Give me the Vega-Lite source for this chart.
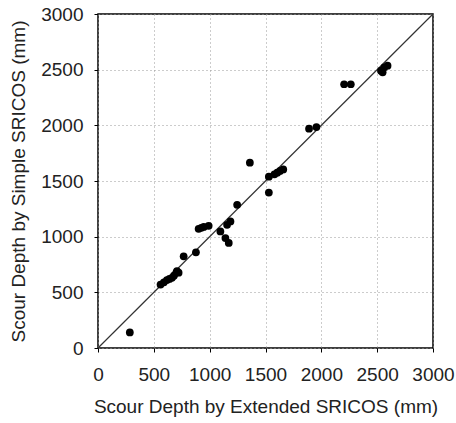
{
  "$schema": "https://vega.github.io/schema/vega-lite/v6.json",
  "autosize": "none",
  "width": 335,
  "height": 334,
  "padding": {"left": 98, "top": 14, "right": 23, "bottom": 75},
  "background": "white",
  "config": {
    "view": {"stroke": "black", "strokeWidth": 1.5},
    "axis": {
      "labelFont": "Liberation Sans",
      "titleFont": "Liberation Sans",
      "labelFontSize": 19,
      "titleFontSize": 19,
      "titleFontWeight": "normal",
      "labelColor": "#222",
      "titleColor": "#222",
      "domain": false,
      "tickColor": "black",
      "tickSize": 4,
      "grid": true,
      "gridColor": "#999",
      "gridDash": [1, 3],
      "gridWidth": 1,
      "format": "d",
      "labelOverlap": false,
      "labelBound": false,
      "labelFlush": false
    }
  },
  "datasets": {
    "pts": [
      {"ext": 285, "simple": 140},
      {"ext": 560, "simple": 570},
      {"ext": 590, "simple": 590},
      {"ext": 617, "simple": 610},
      {"ext": 640, "simple": 620},
      {"ext": 662, "simple": 631},
      {"ext": 680, "simple": 650},
      {"ext": 700, "simple": 675},
      {"ext": 707, "simple": 690},
      {"ext": 722, "simple": 676},
      {"ext": 767, "simple": 824},
      {"ext": 877, "simple": 860},
      {"ext": 901, "simple": 1071},
      {"ext": 925, "simple": 1080},
      {"ext": 947, "simple": 1087},
      {"ext": 991, "simple": 1098},
      {"ext": 1096, "simple": 1047},
      {"ext": 1141, "simple": 988},
      {"ext": 1171, "simple": 944},
      {"ext": 1156, "simple": 1107},
      {"ext": 1186, "simple": 1137},
      {"ext": 1246, "simple": 1286},
      {"ext": 1360, "simple": 1664},
      {"ext": 1530, "simple": 1539},
      {"ext": 1530, "simple": 1396},
      {"ext": 1580, "simple": 1560},
      {"ext": 1605, "simple": 1575},
      {"ext": 1630, "simple": 1590},
      {"ext": 1659, "simple": 1604},
      {"ext": 1890, "simple": 1970},
      {"ext": 1956, "simple": 1985},
      {"ext": 2204, "simple": 2369},
      {"ext": 2264, "simple": 2369},
      {"ext": 2534, "simple": 2491},
      {"ext": 2549, "simple": 2476},
      {"ext": 2564, "simple": 2521},
      {"ext": 2593, "simple": 2536}
    ],
    "diag": [
      {"ext": 0, "simple": 0},
      {"ext": 3000, "simple": 3000}
    ]
  },
  "layer": [
    {
      "data": {"name": "diag"},
      "mark": {"type": "line", "color": "#333", "strokeWidth": 1.2},
      "encoding": {
        "x": {"field": "ext", "type": "quantitative"},
        "y": {"field": "simple", "type": "quantitative"}
      }
    },
    {
      "data": {"name": "pts"},
      "mark": {"type": "circle", "color": "black", "opacity": 1, "size": 60},
      "encoding": {
        "x": {
          "field": "ext", "type": "quantitative",
          "scale": {"domain": [0, 3000], "nice": false},
          "axis": {"values": [0, 500, 1000, 1500, 2000, 2500, 3000], "title": "Scour Depth by Extended SRICOS (mm)", "labelPadding": 13, "titlePadding": 13}
        },
        "y": {
          "field": "simple", "type": "quantitative",
          "scale": {"domain": [0, 3000], "nice": false},
          "axis": {"values": [0, 500, 1000, 1500, 2000, 2500, 3000], "title": "Scour Depth by Simple SRICOS (mm)", "labelPadding": 11, "titlePadding": 12}
        }
      }
    }
  ]
}
